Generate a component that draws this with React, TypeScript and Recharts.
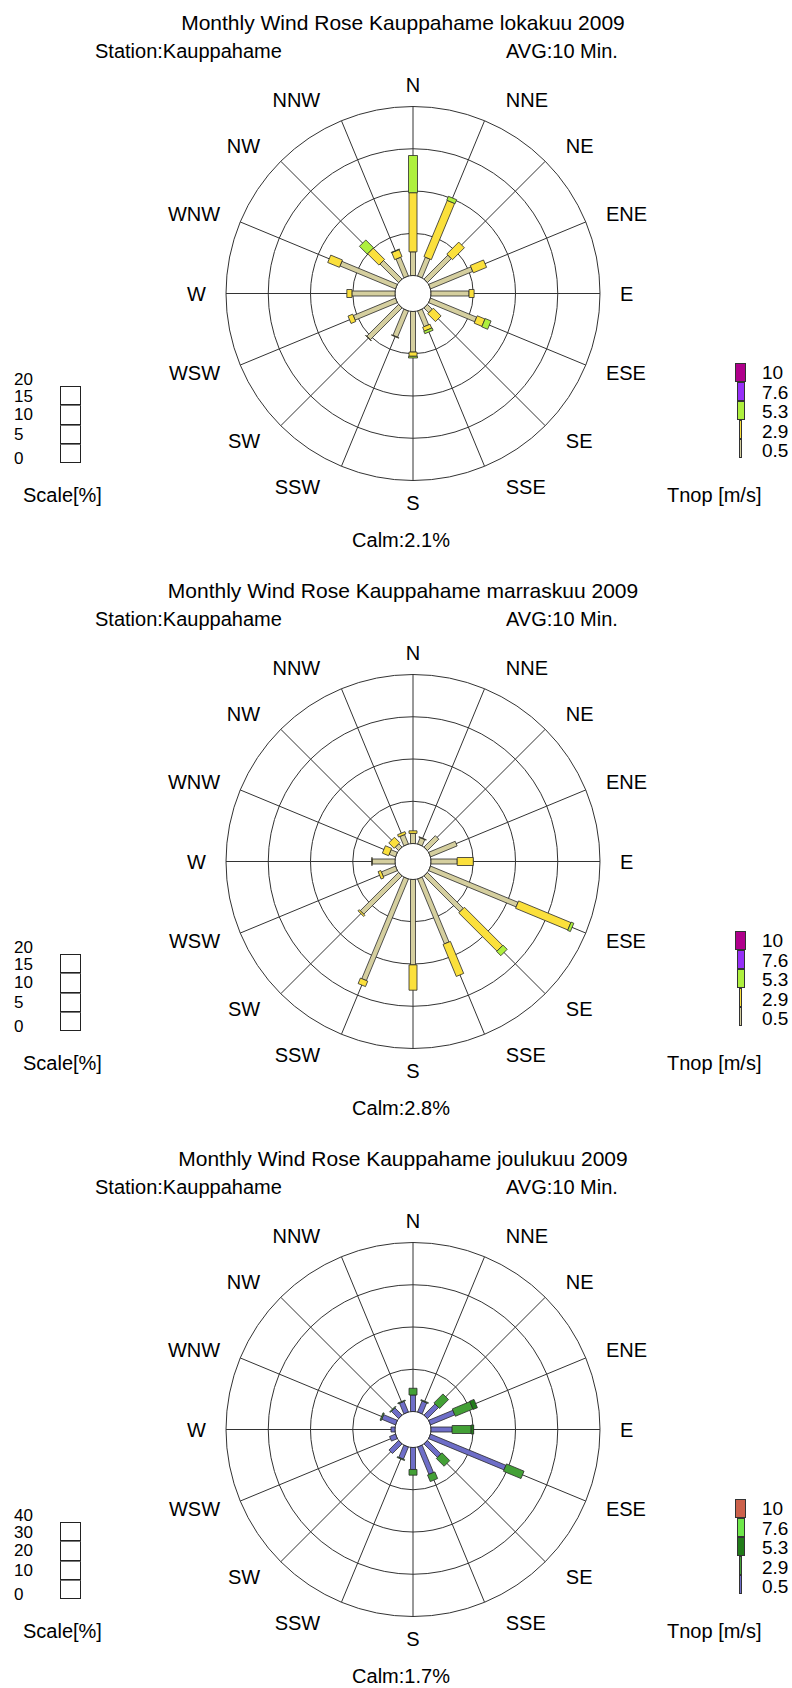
import { RadarChart, Radar, PolarGrid, PolarAngleAxis, PolarRadiusAxis } from "recharts";

const directions = ["N", "NNE", "NE", "ENE", "E", "ESE", "SE", "SSE", "S", "SSW", "SW", "WSW", "W", "WNW", "NW", "NNW"];
const speedTicks = ["0.5", "2.9", "5.3", "7.6", "10"];
const monthNames = ["lokakuu", "marraskuu", "joulukuu"];
const calmPct = [2.1, 2.8, 1.7];
const scaleMax = [20, 20, 40];
const scaleTicks20 = ["0", "5", "10", "15", "20"];
const scaleTicks40 = ["0", "10", "20", "30", "40"];

// lokakuu 2009, % of time per speed class (0.5-2.9, 2.9-5.3, 5.3-7.6 m/s)
const octLow = [2.8, 2.4, 4.0, 5.4, 4.5, 5.9, 0.8, 2.0, 4.8, 3.35, 5.3, 5.4, 5.1, 7.1, 3.1, 2.4];
const octMid = [7.0, 7.2, 2.0, 1.7, 0.6, 1.0, 1.3, 0.5, 0.5, 0.05, 0.05, 0.6, 0.6, 1.5, 1.9, 0.9];
const octHigh = [4.4, 0.5, 0, 0, 0, 0.75, 0, 0.3, 0.2, 0, 0, 0, 0, 0, 1.3, 0.05];

// marraskuu 2009
const novLow = [1.2, 0.8, 1.9, 3.4, 3.1, 11.2, 6.0, 8.3, 10.1, 13.0, 6.4, 1.8, 2.7, 0.8, 0.55, 1.2];
const novMid = [0.3, 0.05, 0, 0, 1.9, 6.7, 6.4, 4.1, 3.0, 0.7, 0.2, 0.35, 0.05, 0.8, 0.9, 0.3];
const novHigh = [0, 0, 0, 0, 0, 0.35, 0.7, 0, 0, 0, 0, 0, 0, 0, 0, 0];

// joulukuu 2009
const decLow = [3.9, 2.8, 3.7, 6.2, 5.0, 19.3, 4.5, 7.0, 5.2, 3.1, 3.2, 1.5, 0.95, 3.5, 2.4, 2.7];
const decMid = [1.6, 0.2, 3.0, 4.5, 4.5, 4.5, 2.6, 1.7, 1.35, 0.2, 0, 0, 0, 0.3, 0.2, 0.2];
const decHigh = [0, 0, 0, 1.1, 0.6, 0, 0, 0, 0, 0, 0, 0, 0, 0, 0, 0];

const warmColors = ["#d5cf9f", "#fbe03c", "#aef03e", "#9630f8", "#b0008c"];
const coolColors = ["#6e6ec8", "#43a036", "#217c19", "#6ee84a", "#cc614b"];

const FONT = '"Liberation Sans", Arial, Helvetica, sans-serif';
const PANEL_H = 568;
const CX = 413;
const CY = 293.5;
const INNER_R = 18;
const OUTER_R = 187;
const barWidths = [5, 8, 9, 10, 11];
const legendWidths = [2.5, 3.5, 8, 8, 11];
const scaleLabelY = [458, 434, 414, 396, 379];

function WindBars(props: any) {
  const { points, baseLinePoints, fill, barWidth } = props;
  if (!points) return null;
  const hw = barWidth / 2;
  return (
    <g>
      {points.map((p: any, i: number) => {
        const b = baseLinePoints && baseLinePoints[i];
        if (!b || p.radius == null || b.radius == null) return null;
        if (p.radius - b.radius < 0.05) return null;
        const a = (-p.angle * Math.PI) / 180;
        const nx = -Math.sin(a) * hw;
        const ny = Math.cos(a) * hw;
        const pts = [
          [b.x + nx, b.y + ny],
          [p.x + nx, p.y + ny],
          [p.x - nx, p.y - ny],
          [b.x - nx, b.y - ny],
        ];
        return (
          <polygon
            key={i}
            points={pts.map((q) => q.join(",")).join(" ")}
            fill={fill}
            stroke="#2a2a2a"
            strokeWidth={0.8}
          />
        );
      })}
    </g>
  );
}

function DirTick(props: any) {
  const { x, y, payload } = props;
  const dx = x - CX;
  const side = Math.abs(dx) < 5 ? 0 : Math.sign(dx);
  const tx = CX + dx * (185 / 209) + side * 22;
  return (
    <text
      x={tx}
      y={y}
      textAnchor={side === 0 ? "middle" : side > 0 ? "start" : "end"}
      dominantBaseline="central"
      fontFamily={FONT}
      fontSize={20}
      fill="#000"
    >
      {payload.value}
    </text>
  );
}

function Label({ x, y, size, center, children }: any) {
  return (
    <div
      style={{
        position: "absolute",
        left: x,
        top: y,
        transform: center ? "translate(-50%, -50%)" : "translateY(-50%)",
        fontSize: size,
        lineHeight: 1,
        whiteSpace: "nowrap",
        color: "#000",
      }}
    >
      {children}
    </div>
  );
}

function WindRosePanel({ top, month, calm, max, ticks, series, colors }: any) {
  const data = directions.map((dir, i) => {
    const row: any = { dir };
    series.forEach((s: number[], k: number) => {
      row["s" + k] = s[i];
    });
    return row;
  });

  const rangeKey = (k: number) => (d: any) => {
    let start = 0;
    for (let j = 0; j < k; j++) start += d["s" + j];
    return [start, start + d["s" + k]];
  };

  return (
    <div style={{ position: "absolute", left: 0, top, width: 792, height: PANEL_H }}>
      <RadarChart
        width={792}
        height={PANEL_H}
        data={data}
        cx={CX}
        cy={CY}
        innerRadius={INNER_R}
        outerRadius={OUTER_R}
        startAngle={90}
        endAngle={-270}
      >
        <PolarGrid gridType="circle" stroke="#333" strokeWidth={1} />
        <PolarAngleAxis dataKey="dir" tick={<DirTick />} tickLine={false} axisLine={false} tickSize={22} />
        <PolarRadiusAxis type="number" domain={[0, max]} tickCount={5} tick={false} axisLine={false} />
        {series.map((_: number[], k: number) => (
          <Radar
            key={k}
            name={speedTicks[k]}
            dataKey={rangeKey(k)}
            fill={colors[k]}
            stroke="#2a2a2a"
            isAnimationActive={false}
            shape={(p: any) => <WindBars {...p} fill={colors[k]} barWidth={barWidths[k]} />}
          />
        ))}
      </RadarChart>

      <Label x={403} y={21.5} size={21} center>
        Monthly Wind Rose Kauppahame {month} 2009
      </Label>
      <Label x={95} y={50.6} size={20}>Station:Kauppahame</Label>
      <Label x={506} y={50.6} size={20}>AVG:10 Min.</Label>
      <Label x={401} y={540} size={20} center>
        Calm:{calm}%
      </Label>

      {/* scale legend */}
      {ticks.map((t: string, i: number) => (
        <Label key={t} x={14} y={scaleLabelY[i]} size={17}>
          {t}
        </Label>
      ))}
      {[0, 1, 2, 3].map((j) => (
        <div
          key={j}
          style={{
            position: "absolute",
            left: 60,
            top: 386 + j * 19.25,
            width: 21,
            height: 19.25,
            boxSizing: "border-box",
            border: "1px solid #222",
            borderTopColor: j === 0 ? "#222" : "#777",
          }}
        />
      ))}
      <Label x={23} y={495} size={20}>Scale[%]</Label>

      {/* speed legend */}
      {speedTicks.map((t, k) => (
        <div key={t}>
          <div
            style={{
              position: "absolute",
              left: 740.5 - legendWidths[k] / 2,
              top: 458 - (k + 1) * 19,
              width: legendWidths[k],
              height: 19,
              boxSizing: "border-box",
              border: "1px solid #333",
              background: colors[k],
            }}
          />
          <Label x={762} y={450 - k * 19.5} size={19}>
            {t}
          </Label>
        </div>
      ))}
      <Label x={667} y={495} size={20}>Tnop [m/s]</Label>
    </div>
  );
}

export default function App() {
  const panels = [
    { series: [octLow, octMid, octHigh], colors: warmColors, ticks: scaleTicks20 },
    { series: [novLow, novMid, novHigh], colors: warmColors, ticks: scaleTicks20 },
    { series: [decLow, decMid, decHigh], colors: coolColors, ticks: scaleTicks40 },
  ];
  return (
    <div
      style={{
        position: "absolute",
        left: 0,
        top: 0,
        width: 792,
        height: 1688,
        background: "#fff",
        fontFamily: FONT,
      }}
    >
      {panels.map((p, i) => (
        <WindRosePanel
          key={i}
          top={i * PANEL_H}
          month={monthNames[i]}
          calm={calmPct[i]}
          max={scaleMax[i]}
          ticks={p.ticks}
          series={p.series}
          colors={p.colors}
        />
      ))}
    </div>
  );
}
